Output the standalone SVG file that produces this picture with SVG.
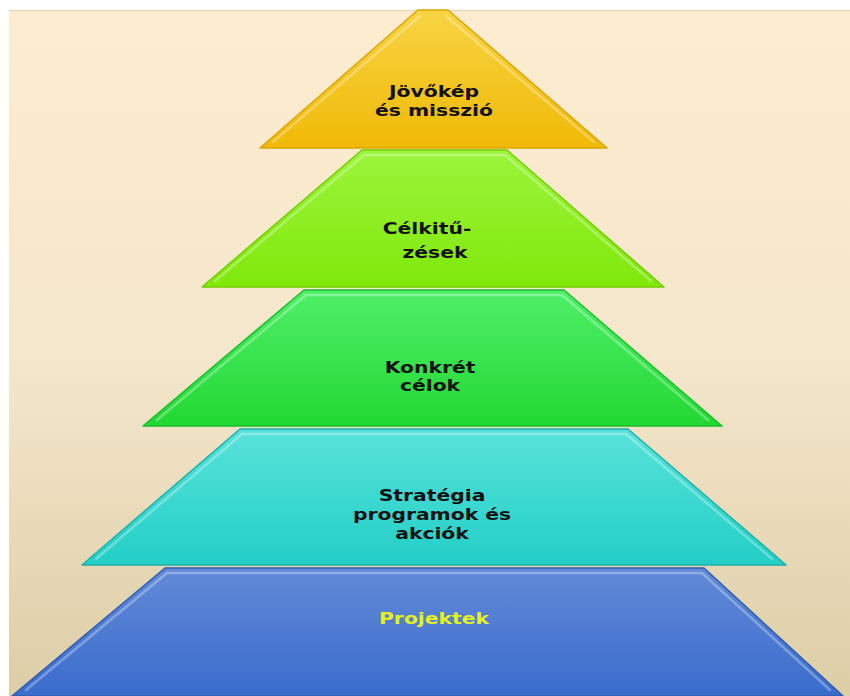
<svg xmlns="http://www.w3.org/2000/svg" width="850" height="696" viewBox="0 0 850 696">
  <defs>
    <linearGradient id="bg" x1="0" y1="0" x2="0" y2="1">
      <stop offset="0" stop-color="#fdecd0"/>
      <stop offset="0.5" stop-color="#f5e7cc"/>
      <stop offset="1" stop-color="#dccea6"/>
    </linearGradient>
    <linearGradient id="gGold" x1="0" y1="0" x2="0" y2="1">
      <stop offset="0" stop-color="#f8d444"/>
      <stop offset="1" stop-color="#f0b906"/>
    </linearGradient>
    <linearGradient id="gLime" x1="0" y1="0" x2="0" y2="1">
      <stop offset="0" stop-color="#9cf53c"/>
      <stop offset="1" stop-color="#80e80a"/>
    </linearGradient>
    <linearGradient id="gGreen" x1="0" y1="0" x2="0" y2="1">
      <stop offset="0" stop-color="#50ef6a"/>
      <stop offset="1" stop-color="#22d832"/>
    </linearGradient>
    <linearGradient id="gCyan" x1="0" y1="0" x2="0" y2="1">
      <stop offset="0" stop-color="#58e2da"/>
      <stop offset="1" stop-color="#22cfc6"/>
    </linearGradient>
    <linearGradient id="gBlue" x1="0" y1="0" x2="0" y2="1">
      <stop offset="0" stop-color="#628ad8"/>
      <stop offset="1" stop-color="#3a6ccc"/>
    </linearGradient>
  </defs>
  <style>
    .shape { stroke-width: 1.5; stroke-linejoin: round; }
    .hl { fill: none; stroke: #ffffff; stroke-opacity: 0.3; stroke-width: 2.5; stroke-linecap: round; stroke-linejoin: round; }
    .lbl { font-family: "DejaVu Sans", Verdana, sans-serif; font-weight: bold; font-size: 16px; fill: #111111; text-anchor: middle; }
    .lbl-y { fill: #e6f01c; }
  </style>

  <rect x="0" y="0" width="850" height="696" fill="#ffffff"/>
  <rect x="9" y="10" width="841" height="686" fill="url(#bg)"/>
  <line x1="9" y1="10.5" x2="850" y2="10.5" stroke="#e2d2ba" stroke-width="1"/>

  <g id="layer-vision">
    <polygon class="shape" points="418,10 448,10 607,148 260,148" fill="url(#gGold)" stroke="#dca600"/>
    <path class="hl" d="M273,142 L420,16 M446,16 L594,142"/>
    <g transform="translate(434 0) scale(1.27 1)">
      <text class="lbl" x="0" y="97">Jövőkép</text>
      <text class="lbl" x="0" y="116">és misszió</text>
    </g>
  </g>

  <g id="layer-goals">
    <polygon class="shape" points="362,150 507,150 664,287 202,287" fill="url(#gLime)" stroke="#74cc00"/>
    <path class="hl" d="M215,281 L364,155 L505,155 L651,281"/>
    <g transform="translate(427 0) scale(1.27 1)">
      <text class="lbl" x="0" y="234">Célkitű-</text>
    </g>
    <g transform="translate(435 0) scale(1.27 1)">
      <text class="lbl" x="0" y="258">zések</text>
    </g>
  </g>

  <g id="layer-objectives">
    <polygon class="shape" points="304,290 564,290 722,426 143,426" fill="url(#gGreen)" stroke="#1cbc2c"/>
    <path class="hl" d="M157,420 L306,295 L562,295 L708,420"/>
    <g transform="translate(430 0) scale(1.27 1)">
      <text class="lbl" x="0" y="373">Konkrét</text>
      <text class="lbl" x="0" y="391">célok</text>
    </g>
  </g>

  <g id="layer-strategy">
    <polygon class="shape" points="240,429 628,429 786,565 82,565" fill="url(#gCyan)" stroke="#1cb0a8"/>
    <path class="hl" d="M96,559 L242,434 L626,434 L772,559"/>
    <g transform="translate(432 0) scale(1.27 1)">
      <text class="lbl" x="0" y="501">Stratégia</text>
      <text class="lbl" x="0" y="520">programok és</text>
      <text class="lbl" x="0" y="539">akciók</text>
    </g>
  </g>

  <g id="layer-projects">
    <polygon class="shape" points="165,568 704,568 843,696 12,696" fill="url(#gBlue)" stroke="#2f5db2"/>
    <path class="hl" d="M26,690 L167,573 L702,573 L830,690"/>
    <g transform="translate(434 0) scale(1.27 1)">
      <text class="lbl lbl-y" x="0" y="624">Projektek</text>
    </g>
  </g>

  <g id="connectors"/>
</svg>
